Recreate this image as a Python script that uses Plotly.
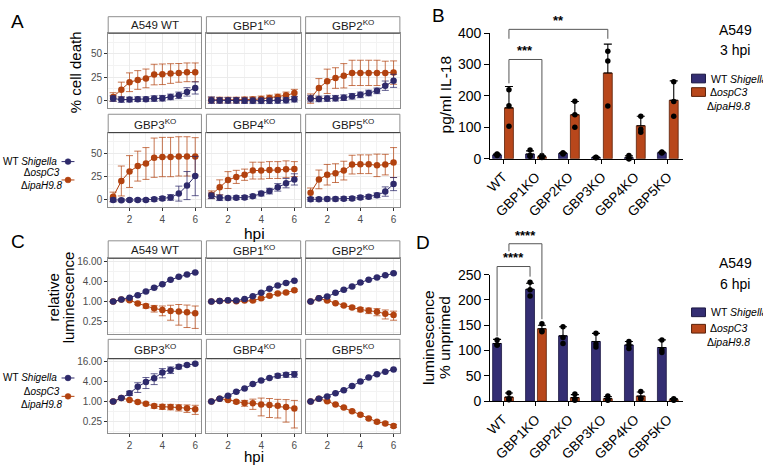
import numpy as np
import plotly.graph_objects as go

W, H = 763, 471
FONT = "Liberation Sans, Arial, Helvetica, sans-serif"
BLUE = "#2e2a6b"
ORANGE = "#b2420f"
BLUE_ERR = "rgba(46,42,107,0.75)"
ORANGE_ERR = "rgba(178,66,15,0.72)"
BAR_BLUE = "#342e73"
BAR_ORANGE = "#b8471b"

# ---------------- data ----------------
hpi = [1, 1.5, 2, 2.5, 3, 3.5, 4, 4.5, 5, 5.5, 6]
facet_labels = ["A549 WT", "GBP1<sup>KO</sup>", "GBP2<sup>KO</sup>",
                "GBP3<sup>KO</sup>", "GBP4<sup>KO</sup>", "GBP5<sup>KO</sup>"]

# Panel A: % cell death (facets: A549 WT, GBP1-5 KO)
death_wt_mean = [
    [2.0, 1.0, 1.0, 1.4, 1.4, 2.0, 2.4, 3.8, 5.5, 9.2, 13.4],
    [0.3, 0.0, 0.0, 0.0, -0.2, -0.3, -0.3, -0.3, 0.0, 0.3, 1.4],
    [2.0, 1.7, 2.0, 2.4, 3.0, 4.5, 6.0, 8.0, 10.3, 15.8, 21.0],
    [0.0, -0.3, 0.0, 0.0, 0.0, 0.7, 1.7, 2.7, 6.8, 15.4, 25.6],
    [4.4, 2.4, 2.0, 2.4, 2.7, 4.0, 6.8, 9.5, 13.5, 18.0, 22.0],
    [0.7, 0.7, 1.0, 1.0, 1.4, 1.7, 2.7, 3.4, 5.0, 9.0, 17.0],
]
death_wt_sd = [
    [3, 3, 2.5, 2.5, 2.5, 3, 3, 3, 3.5, 4.5, 6.5],
    [3.5, 3, 3, 3, 3, 3, 3, 3, 3, 3, 3],
    [3.5, 3, 3, 3, 3, 3, 3, 3, 3, 5, 7],
    [2, 1.5, 1.5, 1.5, 1.5, 2, 2, 3, 8, 15, 21],
    [3, 3, 2, 2, 2, 2, 2.5, 3, 4, 5, 6],
    [2, 2, 2, 2, 2, 2, 2, 2, 2.5, 5, 7],
]
death_mut_mean = [
    [3.8, 11.6, 19.5, 21.9, 23.6, 27.7, 28.0, 28.8, 29.5, 30.1, 30.1],
    [0.5, 0.5, 0.5, 0.5, 0.7, 1.0, 1.7, 2.7, 3.8, 5.5, 7.9],
    [2.0, 13.4, 20.5, 24.0, 26.4, 29.5, 29.5, 29.5, 29.5, 29.5, 29.8],
    [3.4, 20.3, 30.4, 36.2, 39.0, 45.2, 45.9, 45.9, 46.6, 46.6, 46.6],
    [5.7, 13.5, 21.3, 24.7, 27.0, 31.4, 31.4, 32.0, 32.0, 32.8, 33.0],
    [7.8, 22.0, 27.0, 28.7, 31.4, 37.8, 38.2, 38.2, 37.0, 37.8, 40.0],
]
death_mut_sd = [
    [4.5, 8, 10, 10, 10, 11, 11, 10.5, 10, 10, 10],
    [3, 3, 3, 3, 3, 3, 3, 3, 3, 3.5, 4],
    [5, 10, 13, 11, 13, 13.5, 13.5, 13.5, 13.5, 12.5, 12.5],
    [5, 16, 17, 16, 17, 21, 21, 21, 21, 21, 20],
    [4, 8, 9, 7, 6, 9, 9, 9, 9, 9, 8],
    [5, 10, 11, 10, 10, 10, 10, 10, 12, 11, 16],
]

# Panel C: relative luminescence
lum_wt_mean = [
    [1.00, 1.16, 1.30, 1.55, 2.00, 2.58, 3.27, 4.47, 5.43, 6.36, 7.26],
    [1.00, 1.04, 1.09, 1.07, 1.19, 1.45, 1.82, 2.41, 3.01, 3.58, 4.17],
    [1.00, 1.25, 1.42, 1.82, 2.25, 2.81, 3.66, 4.47, 5.21, 6.06, 6.92],
    [1.00, 1.27, 1.78, 2.77, 3.86, 5.03, 7.46, 8.94, 11.16, 12.47, 13.64],
    [1.00, 1.22, 1.48, 1.97, 2.46, 3.36, 4.29, 5.10, 5.94, 6.36, 6.63],
    [1.00, 1.22, 1.42, 1.78, 2.20, 2.95, 4.00, 5.31, 6.63, 7.89, 9.19],
]
lum_wt_sd = [
    [0.02, 0.03, 0.04, 0.05, 0.08, 0.10, 0.12, 0.15, 0.20, 0.20, 0.25],
    [0.02, 0.03, 0.03, 0.04, 0.05, 0.06, 0.08, 0.10, 0.12, 0.14, 0.16],
    [0.02, 0.04, 0.05, 0.06, 0.10, 0.12, 0.20, 0.20, 0.25, 0.25, 0.30],
    [0.03, 0.06, 0.25, 0.90, 1.40, 1.80, 2.30, 2.00, 1.60, 1.00, 0.80],
    [0.02, 0.03, 0.05, 0.08, 0.10, 0.15, 0.20, 0.30, 0.80, 1.00, 1.30],
    [0.02, 0.03, 0.04, 0.05, 0.06, 0.08, 0.10, 0.12, 0.15, 0.18, 0.20],
]
lum_mut_mean = [
    [1.00, 1.16, 1.09, 0.88, 0.74, 0.63, 0.56, 0.53, 0.51, 0.48, 0.45],
    [1.00, 1.04, 1.07, 1.02, 1.07, 1.07, 1.25, 1.48, 1.73, 1.85, 2.16],
    [1.00, 1.25, 1.07, 0.90, 0.77, 0.67, 0.58, 0.54, 0.50, 0.435, 0.40],
    [1.00, 1.27, 1.12, 0.96, 0.86, 0.73, 0.70, 0.69, 0.66, 0.63, 0.59],
    [1.00, 1.22, 1.12, 0.98, 0.90, 0.88, 0.82, 0.78, 0.74, 0.69, 0.62],
    [1.00, 1.22, 1.02, 0.82, 0.66, 0.51, 0.40, 0.31, 0.245, 0.22, 0.185],
]
lum_mut_sd = [
    [0.02, 0.04, 0.05, 0.06, 0.10, 0.14, 0.18, 0.25, 0.31, 0.31, 0.29],
    [0.02, 0.03, 0.03, 0.04, 0.06, 0.06, 0.08, 0.10, 0.12, 0.12, 0.15],
    [0.02, 0.03, 0.04, 0.04, 0.05, 0.06, 0.08, 0.10, 0.12, 0.13, 0.12],
    [0.02, 0.04, 0.05, 0.06, 0.07, 0.10, 0.12, 0.13, 0.14, 0.16, 0.18],
    [0.02, 0.04, 0.05, 0.10, 0.18, 0.30, 0.45, 0.45, 0.42, 0.45, 0.46],
    [0.02, 0.03, 0.03, 0.03, 0.03, 0.03, 0.03, 0.02, 0.02, 0.02, 0.02],
]

# Panel B: IL-18 (pg/ml), 3 hpi
bar_categories = ["WT", "GBP1KO", "GBP2KO", "GBP3KO", "GBP4KO", "GBP5KO"]
il18_wt_mean = [12, 15, 17, 4, 3, 19]
il18_wt_sd = [3, 10, 2, 1, 6, 2]
il18_wt_reps = [[10, 13, 15], [28, 10, 8], [18, 18, 15], [5, 4, 3], [10, 0, 0], [21, 20, 18]]
il18_mut_mean = [162, 6, 140, 273, 105, 186]
il18_mut_sd = [68, 3, 42, 92, 30, 62]
il18_mut_reps = [[220, 169, 103], [10, 5, 4], [183, 140, 100], [342, 311, 168], [135, 94, 84], [245, 182, 135]]

# Panel D: luminescence % unprimed, 6 hpi
unp_wt_mean = [114, 221, 129, 118, 111, 106]
unp_wt_sd = [8, 12, 18, 16, 7, 15]
unp_wt_reps = [[121, 111, 111], [235, 220, 208], [147, 126, 114], [134, 113, 107], [118, 111, 104], [121, 101, 96]]
unp_mut_mean = [8, 143, 7, 5, 10, 3]
unp_mut_sd = [8, 7, 6, 4, 8, 2]
unp_mut_reps = [[16, 5, 3], [153, 139, 137], [14, 5, 2], [10, 3, 2], [19, 6, 5], [5, 3, 2]]

# ---------------- helpers ----------------
def px_x(p):
    return p / W

def px_y(p):
    return 1 - p / H

def dom_x(a, b):
    return [a / W, b / W]

def dom_y(top, bottom):
    return [1 - bottom / H, 1 - top / H]

def akey(n, letter):
    return f"{letter}axis" if n == 1 else f"{letter}axis{n}"

def aref(n, letter):
    return letter if n == 1 else f"{letter}{n}"

layout = dict(
    width=W, height=H, autosize=False,
    margin=dict(l=0, r=0, t=0, b=0),
    paper_bgcolor="white", plot_bgcolor="white",
    showlegend=False, font=dict(family=FONT, color="black"),
    barmode="overlay",
)
shapes, annotations, traces = [], [], []

def text(x, y, s, size, color="black", angle=0, xanchor="center", yanchor="middle", align="center"):
    annotations.append(dict(x=px_x(x), y=px_y(y), xref="paper", yref="paper", text=s,
                            showarrow=False, textangle=angle, xanchor=xanchor, yanchor=yanchor,
                            align=align, font=dict(size=size, color=color, family=FONT)))

col_px = [(103, 197), (202, 297), (302, 397)]
A_rows = [(26, 103), (129, 206)]
A_strips = [(9, 26), (110, 129)]
C_rows = [(259, 337), (363, 440)]
C_strips = [(241, 259), (343, 363)]

GRID = "#ebebeb"
MINOR = "#f3f3f3"
BORDER = "#8f8f8f"
TICKC = "#4d4d4d"

def facet(n, col, rowpx, strippx, bottom, left, ycfg, label, wt, wtsd, mut, mutsd):
    x0, x1 = col
    xa = dict(domain=dom_x(x0, x1), range=[0.7, 6.38], anchor=aref(n, "y"),
              tickvals=[2, 4, 6], showticklabels=bottom,
              ticks="outside" if bottom else "", ticklen=3, tickcolor="#333",
              tickfont=dict(size=10, color=TICKC), showgrid=True, gridcolor=GRID, gridwidth=1,
              minor=dict(tickvals=[1, 3, 5], showgrid=True, gridcolor=MINOR, gridwidth=0.7),
              showline=True, mirror=True, linecolor=BORDER, linewidth=1, zeroline=False,
              fixedrange=True)
    ya = dict(domain=dom_y(*rowpx), anchor=aref(n, "x"), showticklabels=left,
              ticks="outside" if left else "", ticklen=3, tickcolor="#333",
              tickfont=dict(size=10, color=TICKC), showgrid=True, gridcolor=GRID, gridwidth=1,
              showline=True, mirror=True, linecolor=BORDER, linewidth=1, zeroline=False,
              fixedrange=True)
    ya.update(ycfg)
    layout[akey(n, "x")] = xa
    layout[akey(n, "y")] = ya
    # strip
    shapes.append(dict(type="rect", xref="paper", yref="paper", x0=px_x(x0), x1=px_x(x1),
                       y0=px_y(strippx[1]), y1=px_y(strippx[0]), fillcolor="white",
                       line=dict(color=BORDER, width=1), layer="above"))
    shapes.append(dict(type="line", xref="paper", yref="paper", x0=px_x(x0), x1=px_x(x1),
                       y0=px_y(strippx[1]), y1=px_y(strippx[1]),
                       line=dict(color="#3a3a3a", width=1), layer="above"))
    text((x0 + x1) / 2, (strippx[0] + strippx[1]) / 2 + 0.5, label, 11.5, "#1a1a1a")
    for y, sd, c, ec in ((mut, mutsd, ORANGE, ORANGE_ERR), (wt, wtsd, BLUE, BLUE_ERR)):
        traces.append(go.Scatter(
            x=hpi, y=y, xaxis=aref(n, "x"), yaxis=aref(n, "y"), mode="lines+markers",
            line=dict(color=c, width=1), marker=dict(color=c, size=6.5),
            error_y=dict(type="data", array=sd, color=ec, thickness=1, width=3.5),
            hoverinfo="skip"))

# Panel A facets
ycfg_A = dict(range=[-7.5, 72], tickvals=[0, 25, 50],
              minor=dict(tickvals=[12.5, 37.5, 62.5], showgrid=True, gridcolor=MINOR, gridwidth=0.7))
for k in range(6):
    r, c = divmod(k, 3)
    facet(k + 1, col_px[c], A_rows[r], A_strips[r], r == 1, c == 0, ycfg_A, facet_labels[k],
          death_wt_mean[k], death_wt_sd[k], death_mut_mean[k], death_mut_sd[k])

# Panel C facets (log2 scale)
ycfg_C = dict(type="log", range=[np.log10(2 ** -3.15), np.log10(2 ** 4.28)],
              tickvals=[0.25, 1, 4, 16], ticktext=["0.25", "1.00", "4.00", "16.00"],
              minor=dict(tickvals=[0.125, 0.5, 2, 8], showgrid=True, gridcolor=MINOR, gridwidth=0.7))
for k in range(6):
    r, c = divmod(k, 3)
    facet(k + 7, col_px[c], C_rows[r], C_strips[r], r == 1, c == 0, ycfg_C, facet_labels[k],
          lum_wt_mean[k], lum_wt_sd[k], lum_mut_mean[k], lum_mut_sd[k])

# Facet legends (A and C)
def line_legend(y_wt, y_mut_text, y_mut_sym):
    text(53, y_wt, "WT <i>Shigella</i>", 10, "black", xanchor="right")
    text(36, y_mut_text, "Δ<i>ospC3</i><br>Δ<i>ipaH9.8</i>", 10, "black")
    for yy, c in ((y_wt, BLUE), (y_mut_sym, ORANGE)):
        shapes.append(dict(type="line", xref="paper", yref="paper", x0=px_x(56), x1=px_x(69),
                           y0=px_y(yy), y1=px_y(yy), line=dict(color=c, width=1)))
        shapes.append(dict(type="circle", xref="paper", yref="paper", x0=px_x(59.5), x1=px_x(65.5),
                           y0=px_y(yy + 3), y1=px_y(yy - 3), fillcolor=c, line=dict(color=c, width=0.5)))

line_legend(159, 177, 178)
line_legend(383, 404, 402)

# Axis titles for A and C
text(70, 66, "% cell death", 15, angle=-90)
text(250, 233, "hpi", 15.5)
text(48, 300, "relative", 15, angle=-90)
text(63, 300, "luminescence", 15, angle=-90)
text(250, 464.5, "hpi", 15)

# ---------------- bar panels ----------------
idx = np.arange(len(bar_categories))
OFF, BW = 0.18, 0.27
XR = [-0.39, 5.45]
BX = (488, 682)

def bar_panel(n, ypx, yrange, ydt, wt_m, wt_sd, wt_reps, mu_m, mu_sd, mu_reps):
    layout[akey(n, "x")] = dict(domain=dom_x(*BX), range=XR, anchor=aref(n, "y"),
                                tickvals=list(idx), ticktext=bar_categories, tickangle=-45,
                                ticks="outside", ticklen=4, tickwidth=1.2, tickcolor="black",
                                tickfont=dict(size=13.5, color="black"),
                                showline=True, linecolor="black", linewidth=1.2,
                                showgrid=False, zeroline=False, fixedrange=True)
    layout[akey(n, "y")] = dict(domain=dom_y(*ypx), range=yrange, anchor=aref(n, "x"),
                                dtick=ydt, tick0=0, ticks="outside", ticklen=5, tickwidth=1.2,
                                tickcolor="black", tickfont=dict(size=14, color="black"),
                                showline=True, linecolor="black", linewidth=1.2,
                                showgrid=False, zeroline=False, fixedrange=True)
    for m, sd, reps, col, edge, sign in ((wt_m, wt_sd, wt_reps, BAR_BLUE, "#1c1842", -1),
                                         (mu_m, mu_sd, mu_reps, BAR_ORANGE, "#5a2008", 1)):
        xs = idx + sign * OFF
        traces.append(go.Bar(x=xs, y=m, width=BW, xaxis=aref(n, "x"), yaxis=aref(n, "y"),
                             marker=dict(color=col, line=dict(color=edge, width=0.8)),
                             error_y=dict(type="data", symmetric=False, array=sd,
                                          arrayminus=[0] * len(sd), color="black",
                                          thickness=1.1, width=4),
                             hoverinfo="skip"))
        dx = [x for x, r in zip(xs, reps) for _ in r]
        dy = [v for r in reps for v in r]
        traces.append(go.Scatter(x=dx, y=dy, mode="markers", xaxis=aref(n, "x"), yaxis=aref(n, "y"),
                                 marker=dict(color="black", size=5.5), cliponaxis=False,
                                 hoverinfo="skip"))

B_Y = (26, 156)
D_Y = (276, 407)
bar_panel(13, B_Y, [0, 400], 100, il18_wt_mean, il18_wt_sd, il18_wt_reps,
          il18_mut_mean, il18_mut_sd, il18_mut_reps)
bar_panel(14, D_Y, [0, 250], 50, unp_wt_mean, unp_wt_sd, unp_wt_reps,
          unp_mut_mean, unp_mut_sd, unp_mut_reps)

def to_px(xv, yv, ypx, ymax):
    x = BX[0] + (xv - XR[0]) / (XR[1] - XR[0]) * (BX[1] - BX[0])
    y = ypx[1] - yv / ymax * (ypx[1] - ypx[0])
    return x, y

def bracket(xa, xb, ytop, yl, yr, ypx, ymax, label):
    x1, t = to_px(xa, ytop, ypx, ymax)
    x2, _ = to_px(xb, ytop, ypx, ymax)
    _, l = to_px(xa, yl, ypx, ymax)
    _, r = to_px(xb, yr, ypx, ymax)
    path = (f"M {px_x(x1)},{px_y(l)} L {px_x(x1)},{px_y(t)} "
            f"L {px_x(x2)},{px_y(t)} L {px_x(x2)},{px_y(r)}")
    shapes.append(dict(type="path", xref="paper", yref="paper", path=path,
                       line=dict(color="#555555", width=1)))
    text((x1 + x2) / 2, t - 9, f"<b>{label}</b>", 13)

bracket(OFF, 1 + OFF, 316, 240, 14, B_Y, 400, "***")
bracket(OFF, 3 + OFF, 412, 382, 382, B_Y, 400, "**")
bracket(-OFF, 1 - OFF, 266, 128, 246, D_Y, 250, "****")
bracket(OFF, 1 + OFF, 311, 296, 162, D_Y, 250, "****")

# bar titles / labels
text(443, 90, "pg/ml IL-18", 15.5, angle=-90)
text(426, 341, "luminescence", 15.5, angle=-90)
text(442, 341, "% unprimed", 15.5, angle=-90)
text(735, 23, "A549", 14)
text(735, 43, "3 hpi", 14)
text(735, 264, "A549", 14)
text(735, 286, "6 hpi", 14)

def bar_legend(y_wt, y_mut):
    for yy, c, e in ((y_wt, BAR_BLUE, "#1c1842"), (y_mut, BAR_ORANGE, "#5a2008")):
        shapes.append(dict(type="rect", xref="paper", yref="paper", x0=px_x(691), x1=px_x(705),
                           y0=px_y(yy + 4.5), y1=px_y(yy - 4.5), fillcolor=c,
                           line=dict(color=e, width=1)))
    text(709, y_wt, "WT <i>Shigella</i>", 10.5, xanchor="left")
    text(728, y_mut + 7, "Δ<i>ospC3</i><br>Δ<i>ipaH9.8</i>", 10.5)

bar_legend(73, 87)
bar_legend(315, 332)

# panel letters
text(12, 14, "A", 19)
text(436, 8, "B", 19)
text(12, 242, "C", 19)
text(420, 243, "D", 19)

layout["shapes"] = shapes
layout["annotations"] = annotations
fig = go.Figure(data=traces, layout=layout)
fig.write_html("out.html", config={"displayModeBar": False},
               post_script="document.body.style.margin='0px';document.body.style.overflow='hidden';")
